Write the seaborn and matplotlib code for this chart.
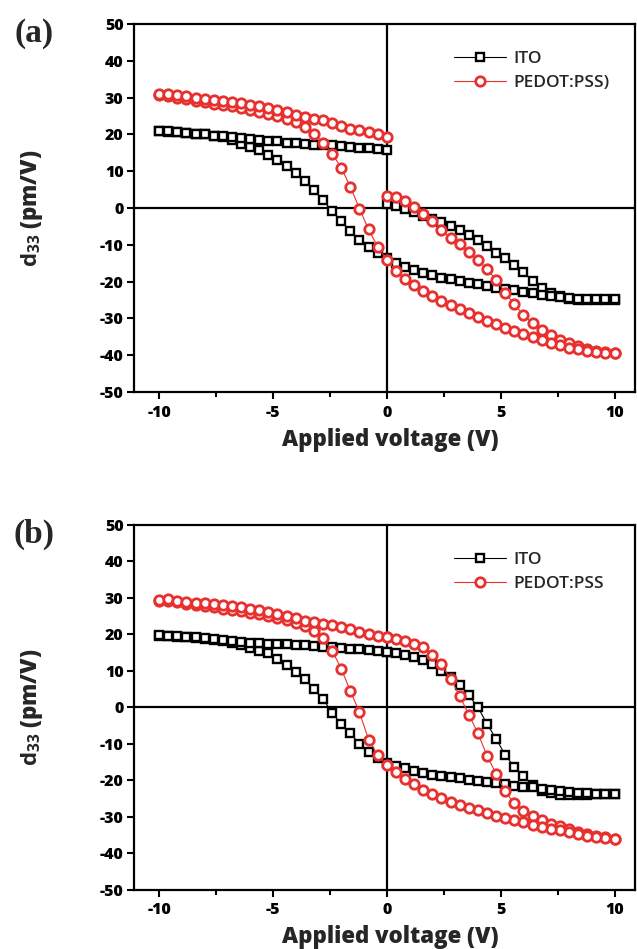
import numpy as np
import pandas as pd
import matplotlib
matplotlib.use("Agg")
import matplotlib.pyplot as plt
import seaborn as sns
from matplotlib.ticker import MultipleLocator

# sweep voltages (V)
v_up = [0.0, 0.4, 0.8, 1.2, 1.6, 2.0, 2.4, 2.8, 3.2, 3.6, 4.0, 4.4, 4.8,
        5.2, 5.6, 6.0, 6.4, 6.8, 7.2, 7.6, 8.0, 8.4, 8.8, 9.2, 9.6, 10.0]
v_full = [-10.0, -9.6, -9.2, -8.8, -8.4, -8.0, -7.6, -7.2, -6.8, -6.4, -6.0,
          -5.6, -5.2, -4.8, -4.4, -4.0, -3.6, -3.2, -2.8, -2.4, -2.0, -1.6,
          -1.2, -0.8, -0.4, 0.0, 0.4, 0.8, 1.2, 1.6, 2.0, 2.4, 2.8, 3.2, 3.6,
          4.0, 4.4, 4.8, 5.2, 5.6, 6.0, 6.4, 6.8, 7.2, 7.6, 8.0, 8.4, 8.8,
          9.2, 9.6, 10.0]
v_neg = [-10.0, -9.6, -9.2, -8.8, -8.4, -8.0, -7.6, -7.2, -6.8, -6.4, -6.0,
         -5.6, -5.2, -4.8, -4.4, -4.0, -3.6, -3.2, -2.8, -2.4, -2.0, -1.6,
         -1.2, -0.8, -0.4, 0.0]

# ---- panel (a) ----
ito_a_up = [1.0, 0.5, -0.3, -1.2, -2.1, -2.9, -3.8, -4.9, -6.0, -7.3, -8.7,
            -10.4, -12.2, -13.7, -15.5, -17.5, -19.8, -21.8, -23.2, -24.0,
            -24.7, -25.0, -25.1, -25.1, -25.0, -25.0]
ito_a_full = [20.8, 20.7, 20.6, 20.4, 20.2, 20.0, 19.7, 19.2, 18.5, 17.5, 16.6,
              15.8, 14.5, 13.1, 11.3, 9.6, 7.4, 4.8, 2.1, -0.8, -3.6, -6.3,
              -8.6, -10.6, -12.3, -13.6, -14.9, -15.9, -16.8, -17.6, -18.3,
              -18.9, -19.4, -19.9, -20.3, -20.7, -21.2, -21.7, -22.0, -22.4,
              -22.7, -23.2, -23.5, -23.8, -24.2, -24.5, -24.7, -24.7, -24.7,
              -24.7, -24.7]
ito_a_neg = [21.0, 20.9, 20.7, 20.5, 20.2, 20.0, 19.7, 19.5, 19.2, 18.9, 18.7,
             18.5, 18.3, 18.1, 17.8, 17.6, 17.4, 17.2, 17.1, 17.0, 16.8, 16.6,
             16.4, 16.3, 16.1, 15.9]
pedot_a_up = [3.3, 3.0, 1.9, 0.4, -1.5, -3.5, -5.9, -8.1, -9.8, -12.0, -14.2,
              -16.6, -19.5, -23.0, -26.2, -29.0, -31.3, -33.2, -34.6, -35.8,
              -36.8, -37.6, -38.3, -38.8, -39.1, -39.3]
pedot_a_full = [30.8, 30.5, 30.0, 29.6, 29.2, 28.8, 28.4, 28.0, 27.6, 27.1,
                26.6, 26.1, 25.6, 25.0, 24.3, 23.4, 22.0, 20.2, 17.8, 14.8,
                10.9, 5.8, -0.2, -5.8, -10.5, -14.1, -17.0, -19.2, -20.9,
                -22.5, -24.0, -25.2, -26.3, -27.4, -28.4, -29.5, -30.6, -31.6,
                -32.5, -33.4, -34.3, -35.1, -35.9, -36.6, -37.3, -37.9, -38.4,
                -38.8, -39.1, -39.3, -39.3]
pedot_a_neg = [31.0, 31.0, 30.7, 30.4, 30.0, 29.7, 29.4, 29.1, 28.8, 28.5,
               28.1, 27.7, 27.2, 26.6, 26.0, 25.4, 24.8, 24.3, 23.8, 23.0,
               22.2, 21.6, 21.2, 20.7, 20.2, 19.4]

# ---- panel (b) ----
ito_b_up = [15.2, 14.8, 14.3, 13.8, 13.0, 11.9, 10.1, 8.4, 6.2, 3.3, 0.1,
            -4.5, -8.6, -13.0, -16.3, -18.9, -21.2, -22.8, -23.5, -23.9,
            -24.0, -24.0, -23.9, -23.8, -23.7, -23.7]
ito_b_full = [19.7, 19.6, 19.4, 19.2, 19.0, 18.8, 18.5, 18.1, 17.6, 17.0, 16.3,
              15.6, 14.8, 13.4, 11.7, 9.7, 7.7, 5.0, 2.3, -1.4, -4.6, -7.0,
              -10.0, -12.3, -13.9, -15.1, -16.0, -16.7, -17.3, -17.9, -18.4,
              -18.7, -19.0, -19.4, -19.8, -20.1, -20.5, -20.8, -21.1, -21.4,
              -21.7, -21.9, -22.3, -22.6, -22.9, -23.2, -23.4, -23.5, -23.6,
              -23.7, -23.7]
ito_b_neg = [19.8, 19.7, 19.6, 19.4, 19.2, 19.0, 18.8, 18.5, 18.2, 18.0, 17.8,
             17.6, 17.5, 17.4, 17.3, 17.2, 17.1, 16.9, 16.7, 16.5, 16.3, 16.1,
             15.9, 15.7, 15.5, 15.2]
pedot_b_up = [19.3, 18.7, 18.1, 17.4, 16.5, 14.5, 11.8, 7.8, 3.2, -2.0, -7.0,
              -13.2, -18.2, -23.0, -26.3, -28.3, -29.8, -30.9, -31.8, -32.6,
              -33.4, -34.0, -34.6, -35.2, -35.6, -36.0]
pedot_b_full = [29.3, 29.2, 28.8, 28.4, 28.0, 27.7, 27.4, 27.1, 26.7, 26.3,
                25.9, 25.5, 25.0, 24.5, 23.9, 23.2, 22.3, 21.0, 18.9, 15.6,
                10.6, 4.5, -1.3, -8.8, -13.0, -15.8, -17.8, -19.6, -21.1,
                -22.5, -23.7, -24.8, -25.8, -26.7, -27.5, -28.2, -28.9, -29.6,
                -30.3, -30.9, -31.5, -32.1, -32.7, -33.2, -33.7, -34.2, -34.7,
                -35.1, -35.5, -35.8, -36.0]
pedot_b_neg = [29.4, 29.6, 29.3, 29.0, 28.7, 28.5, 28.3, 28.1, 27.8, 27.5,
               27.1, 26.6, 26.1, 25.5, 25.0, 24.4, 23.8, 23.3, 22.9, 22.5,
               22.0, 21.4, 20.7, 20.2, 19.7, 19.3]

x_ticks = [-10, -5, 0, 5, 10]
y_ticks = [-50, -40, -30, -20, -10, 0, 10, 20, 30, 40, 50]

sns.set_style("ticks")
plt.rcParams["font.family"] = ["Open Sans", "DejaVu Sans"]
plt.rcParams["axes.unicode_minus"] = False
plt.rcParams["mathtext.fontset"] = "custom"
plt.rcParams["mathtext.bf"] = "Open Sans:bold"
plt.rcParams["mathtext.rm"] = "Open Sans:bold"
plt.rcParams["mathtext.default"] = "bf"

RED = "#e8312f"


def loop(up, full, neg):
    # sweep 0 -> +10 -> -10 -> 0
    v = v_up + v_full[::-1] + v_neg
    d = up + full[::-1] + neg
    return pd.DataFrame({"V": v, "d33": d})


def panel(ax, ito, pedot, pedot_label, tag):
    ax.axhline(0, color="black", lw=1.6, zorder=1)
    ax.axvline(0, color="black", lw=1.6, zorder=1)
    sns.lineplot(data=ito, x="V", y="d33", ax=ax, estimator=None, sort=False,
                 color="black", marker="s", markersize=5.5, markeredgewidth=1.7,
                 markeredgecolor="black", markerfacecolor="white",
                 linewidth=0.8, label="ITO", zorder=3)
    sns.lineplot(data=pedot, x="V", y="d33", ax=ax, estimator=None, sort=False,
                 color=RED, marker="o", markersize=6.8, markeredgewidth=2.0,
                 markeredgecolor=RED, markerfacecolor="white",
                 linewidth=0.8, label=pedot_label, zorder=4)
    ax.set_xlim(-11.1, 10.9)
    ax.set_ylim(-50, 50)
    ax.set_xticks(x_ticks)
    ax.set_yticks(y_ticks)
    ax.xaxis.set_minor_locator(MultipleLocator(2.5))
    for s in ax.spines.values():
        s.set_linewidth(1.6)
        s.set_color("black")
        s.set_visible(True)
    ax.tick_params(axis="both", which="major", direction="out", length=5,
                   width=1.5, color="black", labelcolor="black",
                   labelsize=11.5, pad=2.5)
    ax.tick_params(axis="x", which="minor", direction="out", length=3.5,
                   width=1.5, color="black")
    ax.tick_params(axis="x", which="major", pad=4)
    for lab in ax.get_xticklabels() + ax.get_yticklabels():
        lab.set_fontweight(800)
    ax.set_xlabel("Applied voltage (V)", fontsize=16, fontweight=800)
    ax.set_ylabel(r"$d_{33}$ (pm/V)", fontsize=16, fontweight=800)
    ax.xaxis.set_label_coords(0.511, -0.097)
    ax.yaxis.set_label_coords(-0.178, 0.5)
    ax.legend(loc="upper left", bbox_to_anchor=(0.625, 0.945),
              frameon=False, prop={"size": 12.5, "weight": 600},
              handlelength=3.0, handletextpad=0.4, labelspacing=0.45,
              borderaxespad=0)
    ax.text(-0.2, 0.975, tag, transform=ax.transAxes, fontsize=24,
            fontweight="bold", family="Liberation Serif", ha="center",
            va="center")


fig = plt.figure(figsize=(6.37, 9.49), dpi=100)
ax_a = fig.add_axes([0.2104, 0.5869, 0.7865, 0.3878])
ax_b = fig.add_axes([0.2104, 0.0622, 0.7865, 0.3846])

panel(ax_a, loop(ito_a_up, ito_a_full, ito_a_neg),
      loop(pedot_a_up, pedot_a_full, pedot_a_neg), "PEDOT:PSS)", "(a)")
panel(ax_b, loop(ito_b_up, ito_b_full, ito_b_neg),
      loop(pedot_b_up, pedot_b_full, pedot_b_neg), "PEDOT:PSS", "(b)")

fig.savefig("out.png", dpi=100)
